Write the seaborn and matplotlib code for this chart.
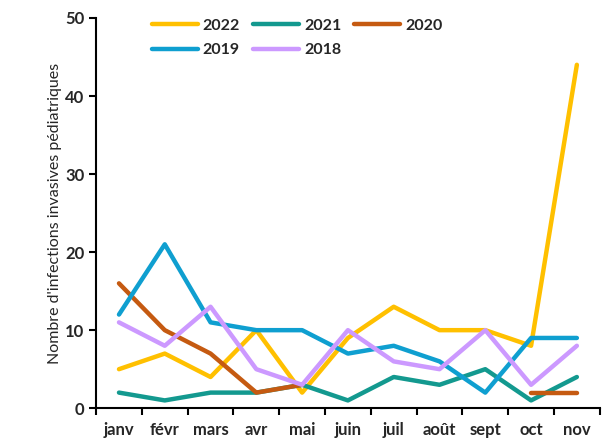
import numpy as np
import pandas as pd
import matplotlib
matplotlib.use("Agg")
import matplotlib.pyplot as plt
import seaborn as sns

months = ["janv", "févr", "mars", "avr", "mai", "juin", "juil", "août", "sept", "oct", "nov"]
y2022 = [5, 7, 4, 10, 2, 9, 13, 10, 10, 8, 44]
y2021 = [2, 1, 2, 2, 3, 1, 4, 3, 5, 1, 4]
y2020 = [16, 10, 7, 2, 3, np.nan, np.nan, np.nan, np.nan, 2, 2]
y2019 = [12, 21, 11, 10, 10, 7, 8, 6, 2, 9, 9]
y2018 = [11, 8, 13, 5, 3, 10, 6, 5, 10, 3, 8]

years = ["2022", "2021", "2020", "2019", "2018"]
colors = {"2022": "#FFC000", "2021": "#13998F", "2020": "#C55A11",
          "2019": "#0F9FD0", "2018": "#CC99FF"}

# long form, gaps (NaN) split a series into separate segments
rows = []
for year, vals in zip(years, [y2022, y2021, y2020, y2019, y2018]):
    seg = 0
    for i, v in enumerate(vals):
        if np.isnan(v):
            seg += 1
            continue
        rows.append({"idx": i, "value": v, "year": year, "seg": f"{year}-{seg}"})
df = pd.DataFrame(rows)

sns.set_style("ticks")
plt.rcParams["font.family"] = ["Lato", "DejaVu Sans"]

fig = plt.figure(figsize=(6.12, 4.38), dpi=100)
ax = fig.add_axes([0.157, 0.068, 0.823, 0.891])

sns.lineplot(data=df, x="idx", y="value", hue="year", units="seg", estimator=None,
             hue_order=years, palette=colors, linewidth=3.2, ax=ax, sort=False)

ax.set_xlim(-0.5, 10.5)
ax.set_ylim(0, 50)
ax.set_yticks([0, 10, 20, 30, 40, 50])
ax.set_xticks(range(len(months)))
ax.set_xticklabels(months)
ax.set_xticks(np.arange(-0.5, 11, 1), minor=True)
ax.tick_params(axis="x", which="major", length=0, pad=10)
ax.tick_params(axis="x", which="minor", length=5, width=1.5, color="black")
ax.tick_params(axis="y", length=5, width=1.5, color="black")
for lab in ax.get_xticklabels() + ax.get_yticklabels():
    lab.set_fontweight("bold")
    lab.set_fontsize(12)
ax.set_xlabel("")
ax.set_ylabel("Nombre d'infections invasives pédiatriques", fontsize=11.5, labelpad=2)
for s in ["left", "bottom"]:
    ax.spines[s].set_linewidth(1.5)
    ax.spines[s].set_color("black")
sns.despine(ax=ax)

handles, labels = ax.get_legend_handles_labels()
hmap = dict(zip(labels, handles))
order = ["2022", "2019", "2021", "2018", "2020"]
leg = ax.legend([hmap[k] for k in order], order, ncol=3, frameon=False,
                loc="upper left", bbox_to_anchor=(0.082, 1.035), handlelength=2.9,
                handletextpad=0.3, columnspacing=0.8, labelspacing=0.65,
                prop={"weight": "bold", "size": 11.5})
for line in leg.get_lines():
    line.set_linewidth(3.2)

fig.savefig("out.png", dpi=100)
